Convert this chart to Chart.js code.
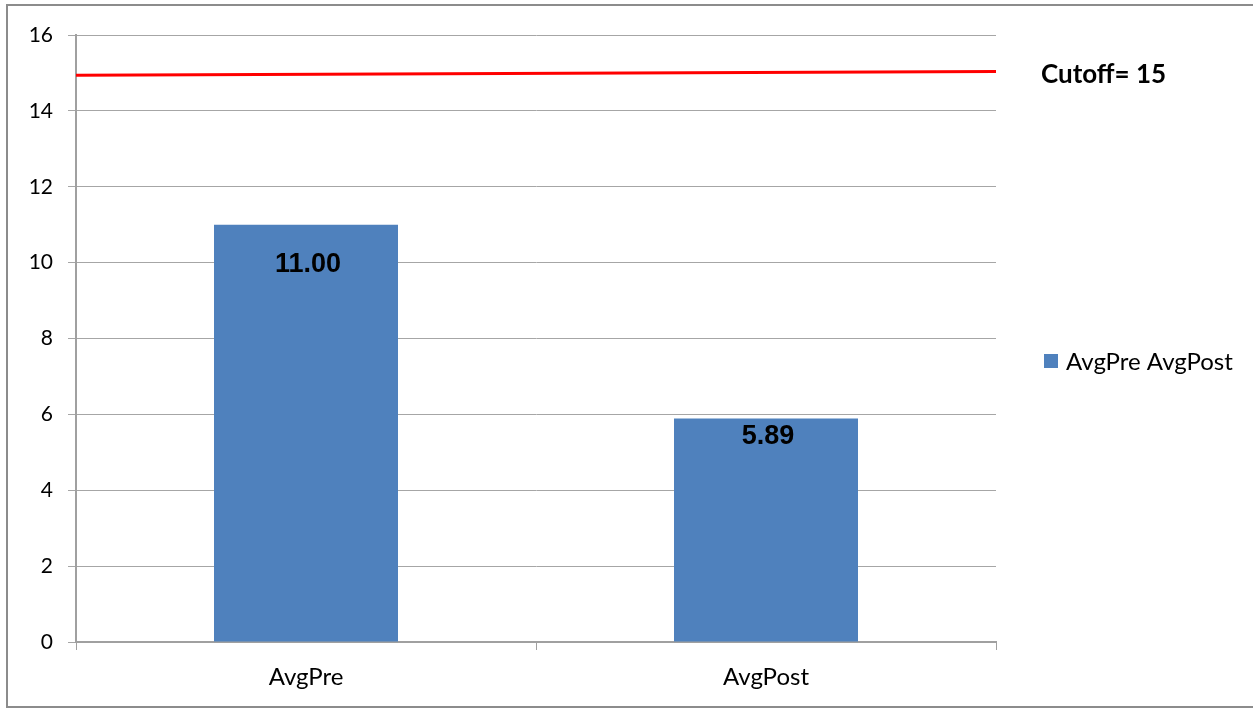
<!DOCTYPE html>
<html>
<head>
<meta charset="utf-8">
<script src="https://cdn.jsdelivr.net/npm/chart.js@4/dist/chart.umd.min.js"></script>
<style>
  html, body { margin: 0; padding: 0; background: #fff; }
  #wrap { width: 1253px; height: 709px; }
</style>
</head>
<body>
<div id="wrap"><canvas id="chart" width="1253" height="709"></canvas></div>
<script>
// data
const categories = ['AvgPre', 'AvgPost'];
const seriesName = 'AvgPre AvgPost';
const avgValues = [11.00, 5.89];
const cutoff = 15;
// the red cutoff line as drawn (slightly tilted in the original)
const cutoffLineX = [0, 1];
const cutoffLineY = [14.94, 15.04];
const yTicks = [0, 2, 4, 6, 8, 10, 12, 14, 16];

const barColor = '#4f81bd';

// white background + frame round the chart
const frame = {
    id: 'frame',
    beforeDraw(chart) {
        const ctx = chart.ctx;
        ctx.save();
        ctx.fillStyle = '#fff';
        ctx.fillRect(0, 0, chart.width, chart.height);
        ctx.strokeStyle = '#8c8c8c';
        ctx.lineWidth = 2;
        ctx.beginPath();
        ctx.moveTo(chart.width, 5);
        ctx.lineTo(7, 5);
        ctx.lineTo(7, 707);
        ctx.lineTo(chart.width, 707);
        ctx.stroke();
        ctx.restore();
    }
};

// value labels inside the bars, legend and cutoff text
const extras = {
    id: 'extras',
    afterDatasetsDraw(chart) {
        const ctx = chart.ctx;
        const offsets = [40, 18];
        ctx.save();
        ctx.font = 'bold 27px "Liberation Sans", Arial, sans-serif';
        ctx.fillStyle = '#000';
        ctx.textAlign = 'center';
        ctx.textBaseline = 'middle';
        chart.getDatasetMeta(0).data.forEach((bar, i) => {
            ctx.fillText(avgValues[i].toFixed(2), bar.x + 2, bar.y + offsets[i]);
        });

        // cutoff label
        ctx.font = 'bold 26px Lato, "Open Sans", sans-serif';
        ctx.textAlign = 'left';
        ctx.fillText('Cutoff= ' + cutoff, 1041, 75);

        // legend
        ctx.fillStyle = barColor;
        ctx.fillRect(1044, 354, 14, 14);
        ctx.fillStyle = '#000';
        ctx.font = '24px Lato, "Open Sans", sans-serif';
        ctx.fillText(chart.data.datasets[0].label, 1066, 362);
        ctx.restore();
    }
};

new Chart(document.getElementById('chart'), {
    type: 'bar',
    data: {
        labels: categories,
        datasets: [{
            type: 'bar',
            label: seriesName,
            data: avgValues,
            backgroundColor: barColor,
            borderWidth: 0,
            grouped: false,
            barPercentage: 0.4,
            categoryPercentage: 1.0,
            order: 2
        }, {
            type: 'line',
            label: 'Cutoff',
            xAxisID: 'x2',
            data: cutoffLineX.map((x, i) => ({ x: x, y: cutoffLineY[i] })),
            borderColor: '#ff0000',
            borderWidth: 3,
            pointRadius: 0,
            fill: false,
            order: 1
        }]
    },
    options: {
        responsive: false,
        animation: false,
        layout: { padding: { top: 35, right: 257, left: 0, bottom: 0 } },
        plugins: {
            legend: { display: false },
            tooltip: { enabled: false }
        },
        scales: {
            x: {
                type: 'category',
                offset: true,
                grid: {
                    offset: true,
                    drawOnChartArea: false,
                    drawTicks: true,
                    tickLength: 8,
                    color: '#a0a0a0'
                },
                border: { color: '#a0a0a0', width: 2 },
                ticks: {
                    color: '#000',
                    padding: 13,
                    font: { family: 'Lato, "Open Sans", sans-serif', size: 24 }
                },
                afterFit(scale) { scale.height = 67; }
            },
            x2: {
                type: 'linear',
                display: false,
                offset: false,
                min: 0,
                max: 1
            },
            y: {
                min: 0,
                max: 16,
                afterBuildTicks(scale) { scale.ticks = yTicks.map(v => ({ value: v })); },
                grid: {
                    color: '#a6a6a6',
                    lineWidth: 1,
                    tickLength: 8
                },
                border: { color: '#a0a0a0', width: 2 },
                ticks: {
                    color: '#000',
                    padding: 15,
                    font: { family: 'Lato, "Open Sans", sans-serif', size: 21 }
                },
                afterFit(scale) { scale.width = 76; }
            }
        }
    },
    plugins: [frame, extras]
});
</script>
</body>
</html>
